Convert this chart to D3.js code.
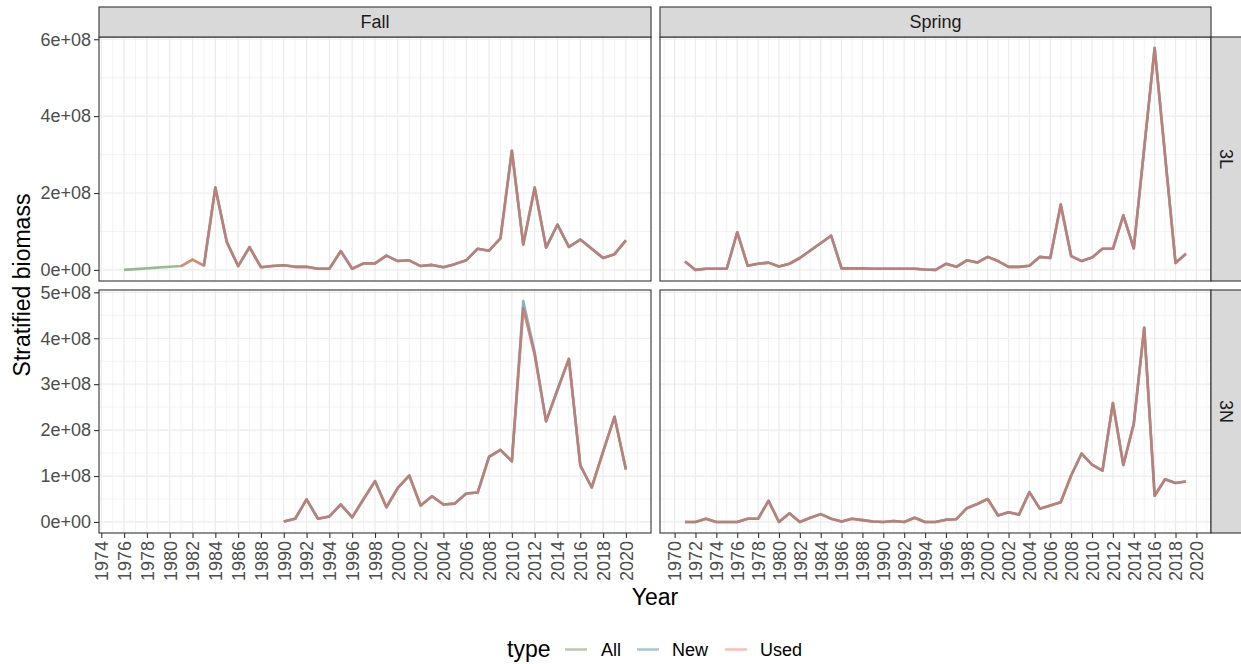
<!DOCTYPE html>
<html>
<head>
<meta charset="utf-8">
<script src="https://cdn.jsdelivr.net/npm/d3@7"></script>
<style>
  body { margin: 0; background: #fff; }
  svg { display: block; font-family: "Liberation Sans", Arial, sans-serif; }
</style>
</head>
<body>
<svg id="chart" width="1241" height="664"></svg>
<script>
// values in millions (biomass)
var SCALE = 1e6;

var seasons = ["Fall", "Spring"];
var divisions = ["3L", "3N"];
var types = ["All", "New", "Used"];

// Fall 3L
var fall3L_years = [1976, 1981, 1982, 1983, 1984, 1985, 1986, 1987, 1988, 1989, 1990, 1991, 1992, 1993, 1994, 1995, 1996, 1997, 1998, 1999,
  2000, 2001, 2002, 2003, 2004, 2005, 2006, 2007, 2008, 2009, 2010, 2011, 2012, 2013, 2014, 2015, 2016, 2017, 2018, 2019, 2020];
var fall3L_biomass = [0, 10, 27, 11, 214, 73, 10, 59, 7, 10, 12, 8, 8, 3, 3, 49, 3, 17, 17, 37,
  23, 25, 10, 13, 7, 15, 25, 55, 50, 82, 310, 66, 214, 58, 118, 60, 79, 55, 31, 41, 77];
// first year each type appears in Fall 3L
var fall3L_start = { All: 1976, New: 1983, Used: 1981 };

// Fall 3N
var fall3N_years = d3.range(1990, 2021);
var fall3N_biomass = [1, 7, 49, 7, 12, 38, 10, 50, 89, 32,
  74, 101, 36, 56, 38, 40, 62, 64, 141, 157,
  132, 465, 364, 219, 288, 355, 123, 75, 153, 229, 114];
var fall3N_biomass_new = [1, 7, 49, 7, 12, 38, 10, 50, 89, 32,
  74, 101, 36, 56, 38, 40, 62, 64, 143, 157,
  132, 481, 370, 219, 288, 355, 123, 75, 153, 229, 114];

// Spring 3L
var spring3L_years = [1971, 1972, 1973, 1974, 1975, 1976, 1977, 1978, 1979, 1980, 1981, 1982, 1985, 1986, 1987, 1988, 1989,
  1990, 1991, 1992, 1993, 1994, 1995, 1996, 1997, 1998, 1999, 2000, 2001, 2002, 2003, 2004, 2005, 2006, 2007, 2008, 2009,
  2010, 2011, 2012, 2013, 2014, 2016, 2018, 2019];
var spring3L_biomass = [22, 0, 3, 3, 3, 98, 11, 16, 19, 9, 16, 31, 89, 4, 4, 4, 3,
  3, 3, 3, 3, 1, 0, 16, 8, 25, 19, 34, 23, 8, 8, 11, 34, 31, 170, 36, 23,
  32, 55, 55, 142, 56, 577, 18, 42];

// Spring 3N
var spring3N_years = d3.range(1971, 2020);
var spring3N_biomass = [0, 0, 7, 0, 0, 0, 7, 7, 46,
  0, 19, 0, 9, 17, 7, 1, 7, 4, 1,
  0, 2, 0, 9, 0, 0, 5, 6, 30, 39,
  50, 14, 21, 16, 65, 29, 36, 43, 101, 149,
  125, 112, 259, 124, 214, 423, 57, 93, 85, 88];

// tick values
var xTicks = {
  Fall: d3.range(1974, 2021, 2),
  Spring: d3.range(1970, 2021, 2)
};
var yTicks = {
  "3L": [0, 2e8, 4e8, 6e8],
  "3N": [0, 1e8, 2e8, 3e8, 4e8, 5e8]
};

var typeColor = { All: "#588c50", New: "#3c82aa", Used: "#fa6e5f" };
var lineAlpha = 0.6;

// ---- build series ----
function pairs(years, vals) {
  return years.map(function(y, i) { return { year: y, value: vals[i] * SCALE }; });
}
var series = [];
types.forEach(function(t) {
  series.push({ season: "Fall", div: "3L", type: t,
    values: pairs(fall3L_years, fall3L_biomass).filter(function(d) { return d.year >= fall3L_start[t]; }) });
  series.push({ season: "Fall", div: "3N", type: t,
    values: pairs(fall3N_years, t === "New" ? fall3N_biomass_new : fall3N_biomass) });
  series.push({ season: "Spring", div: "3L", type: t, values: pairs(spring3L_years, spring3L_biomass) });
  series.push({ season: "Spring", div: "3N", type: t, values: pairs(spring3N_years, spring3N_biomass) });
});

// ---- layout ----
var svg = d3.select("#chart");
var colPos = { Fall: [99, 651], Spring: [660, 1211] };
var rowPos = { "3L": [37, 281], "3N": [290, 533] };

function expand(ext) {
  var pad = (ext[1] - ext[0]) * 0.05;
  return [ext[0] - pad, ext[1] + pad];
}

var x = {};
seasons.forEach(function(s) {
  var all = [];
  series.filter(function(d) { return d.season === s; }).forEach(function(d) { all = all.concat(d.values); });
  x[s] = d3.scaleLinear().domain(expand(d3.extent(all, function(d) { return d.year; }))).range(colPos[s]);
});
var y = {};
divisions.forEach(function(r) {
  var all = [];
  series.filter(function(d) { return d.div === r; }).forEach(function(d) { all = all.concat(d.values); });
  y[r] = d3.scaleLinear().domain(expand(d3.extent(all, function(d) { return d.value; }))).range([rowPos[r][1], rowPos[r][0]]);
});

function minorBreaks(major, dom) {
  var step = major[1] - major[0];
  var out = [];
  for (var v = major[0] - step / 2; v <= major[major.length - 1] + step / 2 + 1e-9; v += step) {
    if (v >= dom[0] && v <= dom[1]) out.push(v);
  }
  return out;
}

var sci = function(d) {
  if (d === 0) return "0e+00";
  return d3.format(".0e")(d).replace(/e\+(\d)$/, "e+0$1");
};

var line = d3.line();

seasons.forEach(function(s) {
  divisions.forEach(function(r) {
    var xs = x[s], ys = y[r];
    var x0 = colPos[s][0], x1 = colPos[s][1], y0 = rowPos[r][0], y1 = rowPos[r][1];
    var g = svg.append("g");

    g.append("rect").attr("x", x0).attr("y", y0).attr("width", x1 - x0).attr("height", y1 - y0).attr("fill", "#fff");

    // grid
    g.selectAll(".xminor").data(minorBreaks(xTicks[s], xs.domain())).enter().append("line")
      .attr("x1", xs).attr("x2", xs).attr("y1", y0).attr("y2", y1)
      .attr("stroke", "#ebebeb").attr("stroke-width", 0.6);
    g.selectAll(".yminor").data(minorBreaks(yTicks[r], ys.domain())).enter().append("line")
      .attr("y1", ys).attr("y2", ys).attr("x1", x0).attr("x2", x1)
      .attr("stroke", "#ebebeb").attr("stroke-width", 0.6);
    g.selectAll(".xmajor").data(xTicks[s]).enter().append("line")
      .attr("x1", xs).attr("x2", xs).attr("y1", y0).attr("y2", y1)
      .attr("stroke", "#ebebeb").attr("stroke-width", 1.2);
    g.selectAll(".ymajor").data(yTicks[r]).enter().append("line")
      .attr("y1", ys).attr("y2", ys).attr("x1", x0).attr("x2", x1)
      .attr("stroke", "#ebebeb").attr("stroke-width", 1.2);

    // lines (All, New, Used in that order)
    series.filter(function(d) { return d.season === s && d.div === r; }).forEach(function(d) {
      line.x(function(p) { return xs(p.year); }).y(function(p) { return ys(p.value); });
      g.append("path").attr("d", line(d.values))
        .attr("fill", "none")
        .attr("stroke", typeColor[d.type])
        .attr("stroke-opacity", lineAlpha)
        .attr("stroke-width", 2.6)
        .attr("stroke-linejoin", "round");
    });

    g.append("rect").attr("x", x0).attr("y", y0).attr("width", x1 - x0).attr("height", y1 - y0)
      .attr("fill", "none").attr("stroke", "#333").attr("stroke-width", 1.1);

    // y axis on left column only
    if (s === "Fall") {
      var ya = svg.append("g").attr("transform", "translate(" + x0 + ",0)")
        .call(d3.axisLeft(ys).tickValues(yTicks[r]).tickFormat(sci).tickSize(5).tickPadding(3));
      ya.select(".domain").remove();
      ya.selectAll(".tick line").attr("stroke", "#333").attr("stroke-width", 1.1);
      ya.selectAll(".tick text").attr("fill", "#4d4d4d").style("font-size", "18px");
    }
    // x axis on bottom row only
    if (r === "3N") {
      var xa = svg.append("g").attr("transform", "translate(0," + y1 + ")")
        .call(d3.axisBottom(xs).tickValues(xTicks[s]).tickFormat(d3.format("d")).tickSize(5));
      xa.select(".domain").remove();
      xa.selectAll(".tick line").attr("stroke", "#333").attr("stroke-width", 1.1);
      xa.selectAll(".tick text")
        .attr("fill", "#4d4d4d").style("font-size", "18px")
        .attr("transform", "translate(0,8) rotate(-90)")
        .attr("text-anchor", "end").attr("x", 0).attr("y", 0).attr("dy", "0.35em");
    }
  });
});

// top strips
seasons.forEach(function(s) {
  var x0 = colPos[s][0], x1 = colPos[s][1];
  svg.append("rect").attr("x", x0).attr("y", 7).attr("width", x1 - x0).attr("height", 30)
    .attr("fill", "#d9d9d9").attr("stroke", "#333").attr("stroke-width", 1.1);
  svg.append("text").attr("x", (x0 + x1) / 2).attr("y", 22).attr("dy", "0.35em")
    .attr("text-anchor", "middle").attr("fill", "#1a1a1a").style("font-size", "18px").text(s);
});
// right strips
divisions.forEach(function(r) {
  var y0 = rowPos[r][0], y1 = rowPos[r][1];
  svg.append("rect").attr("x", 1211).attr("y", y0).attr("width", 32).attr("height", y1 - y0)
    .attr("fill", "#d9d9d9").attr("stroke", "#333").attr("stroke-width", 1.1);
  svg.append("text").attr("transform", "translate(1226," + ((y0 + y1) / 2) + ") rotate(90)")
    .attr("dy", "0.35em").attr("text-anchor", "middle").attr("fill", "#1a1a1a")
    .style("font-size", "18px").text(r);
});

// axis titles
svg.append("text").attr("transform", "translate(22,285) rotate(-90)").attr("dy", "0.35em")
  .attr("text-anchor", "middle").style("font-size", "23px").text("Stratified biomass");
svg.append("text").attr("x", 655).attr("y", 605).attr("text-anchor", "middle")
  .style("font-size", "23px").text("Year");

// legend
var legend = svg.append("g");
legend.append("text").attr("x", 507).attr("y", 657).style("font-size", "23px").text("type");
var legendPos = [{ x: 565, tx: 601 }, { x: 637, tx: 672 }, { x: 725, tx: 760 }];
types.forEach(function(t, i) {
  legend.append("line").attr("x1", legendPos[i].x).attr("x2", legendPos[i].x + 22)
    .attr("y1", 649.5).attr("y2", 649.5)
    .attr("stroke", typeColor[t]).attr("stroke-opacity", lineAlpha * 0.75).attr("stroke-width", 2.6);
  legend.append("text").attr("x", legendPos[i].tx).attr("y", 656)
    .attr("fill", "#000").style("font-size", "18px").text(t);
});
</script>
</body>
</html>
